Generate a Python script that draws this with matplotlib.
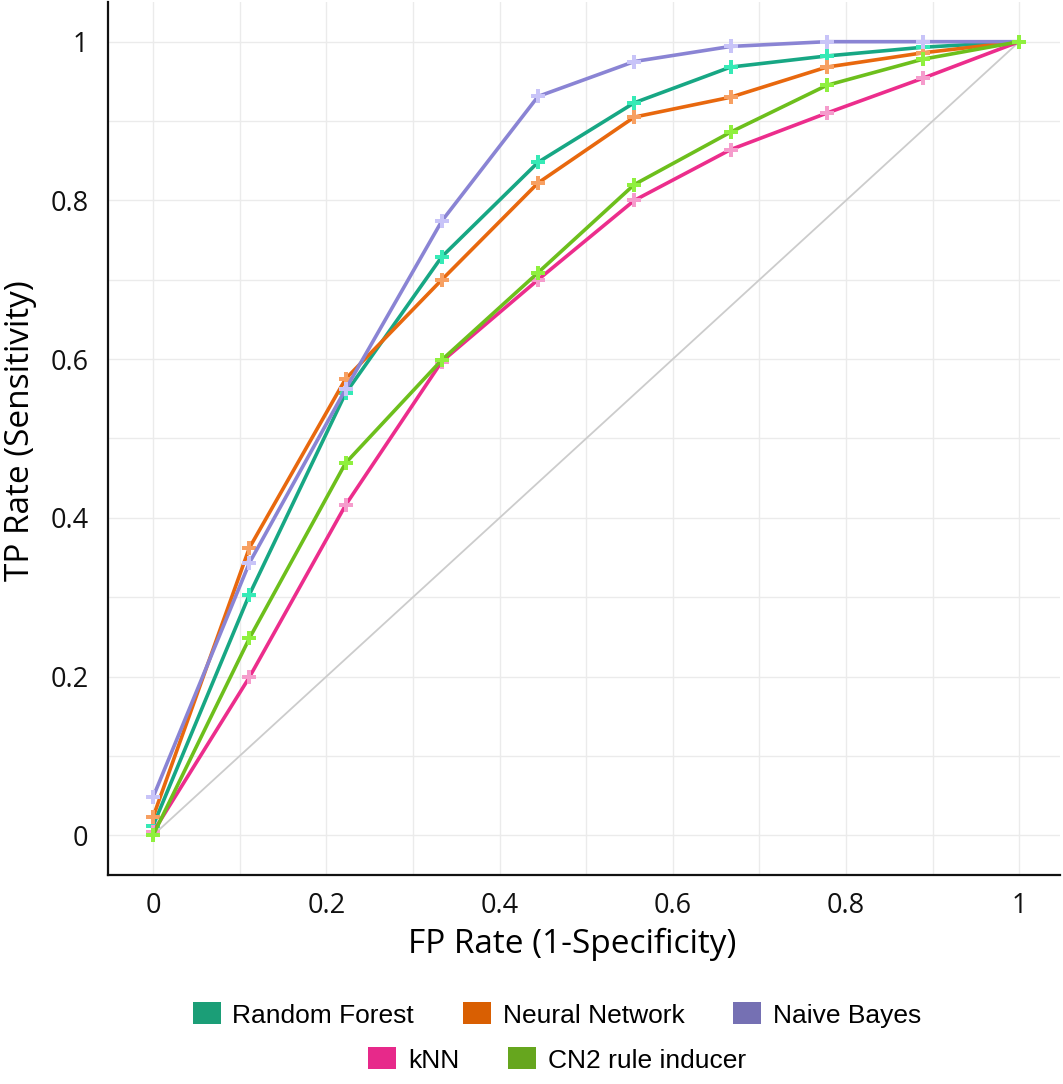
import matplotlib
matplotlib.use("Agg")
import matplotlib.pyplot as plt
from matplotlib.patches import Patch
import numpy as np

# ---- data ----
fpr = [0, 1/9, 2/9, 3/9, 4/9, 5/9, 6/9, 7/9, 8/9, 1]
series_names = ["Random Forest", "Neural Network", "Naive Bayes", "kNN", "CN2 rule inducer"]
tpr_rf = [0.012, 0.303, 0.557, 0.729, 0.848, 0.923, 0.968, 0.982, 0.993, 1.0]
tpr_nn = [0.023, 0.362, 0.575, 0.700, 0.822, 0.905, 0.930, 0.968, 0.986, 1.0]
tpr_nb = [0.048, 0.343, 0.562, 0.774, 0.931, 0.975, 0.994, 1.0, 1.0, 1.0]
tpr_knn = [0.004, 0.199, 0.416, 0.597, 0.700, 0.800, 0.864, 0.910, 0.954, 1.0]
tpr_cn2 = [0.0, 0.248, 0.469, 0.599, 0.709, 0.820, 0.886, 0.945, 0.978, 1.0]
legend_colors = ["#1b9e77", "#d95f02", "#7570b3", "#e7298a", "#66a61e"]
line_colors = ["#17a784", "#e8680e", "#8a84d4", "#ec2d8c", "#6dbf1c"]
marker_colors = ["#36eab6", "#f7a062", "#c8c4f8", "#f59ccc", "#8ff03e"]
xticks = [0, 0.2, 0.4, 0.6, 0.8, 1]
xtick_labels = ["0", "0.2", "0.4", "0.6", "0.8", "1"]
yticks = [0, 0.2, 0.4, 0.6, 0.8, 1]
ytick_labels = ["0", "0.2", "0.4", "0.6", "0.8", "1"]

fig = plt.figure(figsize=(10.63, 10.84), dpi=100)
ax = fig.add_axes([108/1063, (1084-875)/1084, (1060-108)/1063, (875-2)/1084])

# grid every 0.1
for v in np.arange(0, 1.0001, 0.1):
    ax.axvline(v, color="#ebebeb", lw=1.0, zorder=0)
    ax.axhline(v, color="#ebebeb", lw=1.0, zorder=0)

# diagonal
ax.plot([0, 1], [0, 1], color="#cccccc", lw=1.3, zorder=1)

all_tpr = [tpr_rf, tpr_nn, tpr_nb, tpr_knn, tpr_cn2]
for i, (name, tpr) in enumerate(zip(series_names, all_tpr)):
    ax.plot(fpr, tpr, color=line_colors[i], lw=2.6, zorder=2 + i,
            marker="P", markersize=10, markerfacecolor=marker_colors[i],
            markeredgewidth=0)

ax.set_xlim(-0.052, 1.047)
ax.set_ylim(-0.050, 1.050)
ax.set_xticks(xticks)
ax.set_xticklabels(xtick_labels)
ax.set_yticks(yticks)
ax.set_yticklabels(ytick_labels)
ax.tick_params(axis="both", length=0, labelsize=19.5, colors="#111111")
ax.tick_params(axis="x", pad=12)
ax.tick_params(axis="y", pad=14)
for lab in ax.get_xticklabels() + ax.get_yticklabels():
    lab.set_fontfamily("Open Sans")

for s in ["top", "right"]:
    ax.spines[s].set_visible(False)
for s in ["left", "bottom"]:
    ax.spines[s].set_linewidth(1.6)
    ax.spines[s].set_color("#111111")

ax.set_xlabel("FP Rate (1-Specificity)", fontsize=24, family="Open Sans")
ax.set_ylabel("TP Rate (Sensitivity)", fontsize=24, family="Open Sans")
ax.xaxis.set_label_coords(0.488, -0.0607, transform=ax.transAxes)
ax.yaxis.set_label_coords(-0.0746, 0.509, transform=ax.transAxes)

handles = [Patch(facecolor=c, edgecolor="none") for c in legend_colors]
leg_kw = dict(frameon=False, prop={"family": "Liberation Sans", "size": 19},
              handlelength=1.06, handleheight=0.9, handletextpad=0.45,
              columnspacing=1.85, borderpad=0, borderaxespad=0)
leg1 = fig.legend(handles[:3], series_names[:3], ncol=3, loc="center",
                  bbox_to_anchor=(557/1063, 1 - 1015/1084), **leg_kw)
leg2 = fig.legend(handles[3:], series_names[3:], ncol=2, loc="center",
                  bbox_to_anchor=(557/1063, 1 - 1060/1084), **leg_kw)

fig.savefig("out.png", dpi=100, facecolor="white")
